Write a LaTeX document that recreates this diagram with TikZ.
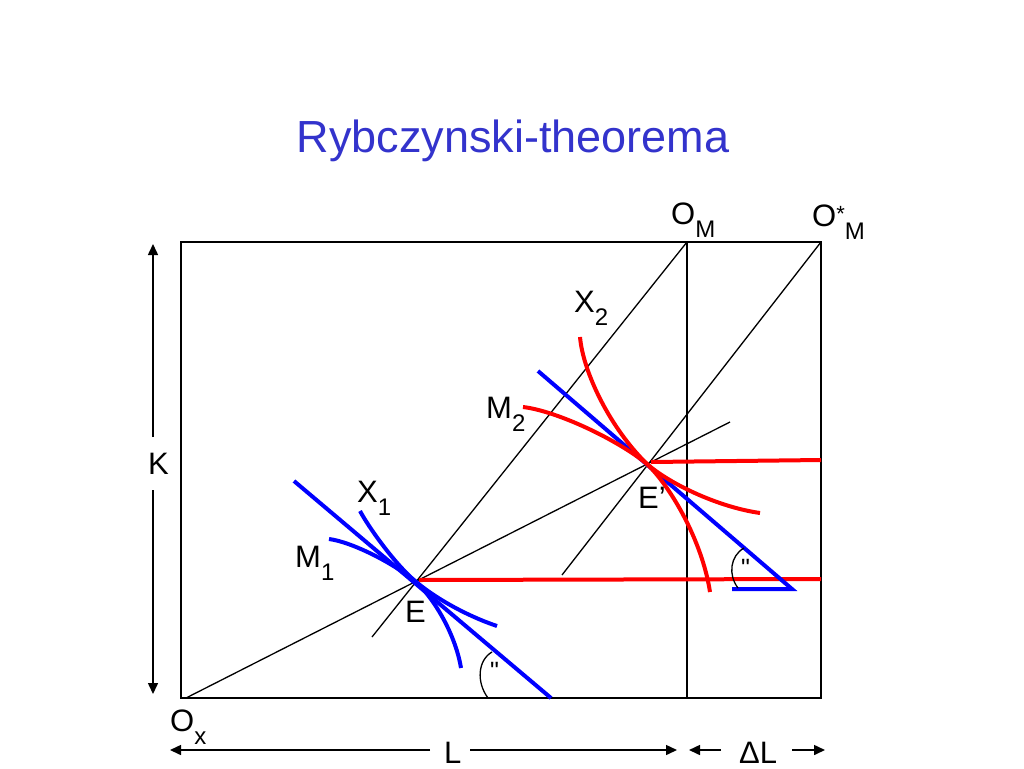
\documentclass[tikz,border=0pt]{standalone}
\usepackage{fontspec}
\setmainfont{Liberation Sans}
\newfontfamily\qfont{Liberation Sans}
\usetikzlibrary{arrows.meta}
\definecolor{titleblue}{HTML}{3333CC}
\definecolor{lblue}{HTML}{0000FF}
\definecolor{lred}{HTML}{FF0000}
\newcommand\lsub[1]{\raisebox{-13pt}{\fontsize{24}{24}\selectfont #1}}
\newcommand\lsup[1]{\raisebox{5pt}{\fontsize{22}{22}\selectfont #1}}
\begin{document}
\begin{tikzpicture}[x=1pt,y=-1pt,
  axis/.style={black, line width=1.5pt},
  thinline/.style={black, line width=1.3pt},
  bl/.style={lblue, line width=4pt},
  rd/.style={lred, line width=4pt},
  lab/.style={font=\fontsize{31}{31}\selectfont, inner sep=0pt, anchor=base west},
  ang/.style={font=\qfont\fontsize{25}{25}\selectfont, inner sep=0pt, anchor=base west},
  arr/.style={line width=1.5pt, -{Triangle[length=11pt,width=10pt]}}]
\useasboundingbox (0,0) rectangle (1024,768);

% title
\node[font=\fontsize{45}{45}\selectfont, text=titleblue, anchor=base, inner sep=0pt] (title) at (513,152) {Rybczynski-theorema};

% key coordinates
\coordinate (Ox) at (186,698);
\coordinate (OM) at (687,242);
\coordinate (OMs) at (821,242);
\coordinate (E) at (415,581);
\coordinate (E2) at (647,464);
\coordinate (ray) at (730,422);
\coordinate (m1end) at (372,637);
\coordinate (m2end) at (562,575);

% box
\draw[axis] (181,242) rectangle (821,698);
\draw[axis] (OM) -- (687,698);

% rays
\draw[thinline] (Ox) -- (ray);
\draw[thinline] (OM) -- (m1end);
\draw[thinline] (OMs) -- (m2end);

% red horizontals
\coordinate (r1a) at (419,580);
\coordinate (r1b) at (821,579);
\coordinate (r2a) at (651,462);
\coordinate (r2b) at (821,460);
\draw[rd] (r1a) -- (r1b);
\draw[rd] (r2a) -- (r2b);

% blue isocost lines
\coordinate (b1a) at (294,481);
\coordinate (b1b) at (551,698);
\coordinate (b2a) at (538,371);
\coordinate (b2b) at (792,589);
\coordinate (b2c) at (732,589);
\draw[bl] (b1a) -- (b1b);
\draw[bl, line join=miter] (b2a) -- (b2b) -- (b2c);

% blue isoquants at E
\draw[bl] (360,511) .. controls (368,526) and (393,562) .. (E);
\draw[bl] (329,539) .. controls (352,542) and (393,563) .. (E);
\draw[bl] (E) .. controls (440,602) and (473,618) .. (497,626);
\draw[bl] (E) .. controls (432,596) and (455,632) .. (461,668);

% red isoquants at E'
\draw[rd] (580,337) .. controls (583,372) and (610,428) .. (E2);
\draw[rd] (523,407) .. controls (557,411) and (618,440) .. (E2);
\draw[rd] (E2) .. controls (670,484) and (718,507) .. (760,513);
\draw[rd] (E2) .. controls (670,486) and (702,540) .. (710,592);

% angle marks
\draw[line width=1.3pt] (488,698) .. controls (476,682) and (478,660) .. (492,652);
\node[ang] (a1) at (490,679) {"};
\draw[line width=1.3pt] (738,588) .. controls (728,575) and (730,556) .. (744,548);
\node[ang] (a2) at (741,576) {"};

% labels
\node[lab] (lOM) at (671,224) {O\lsub{M}};
\node[lab] (lOMs) at (812,226) {O\lsup{*}\lsub{M}};
\node[lab] (lOx) at (170,731) {O\lsub{x}};
\node[lab] (lX2) at (574,312) {X\lsub{2}};
\node[lab] (lM2) at (486,418) {M\lsub{2}};
\node[lab] (lX1) at (357,502) {X\lsub{1}};
\node[lab] (lM1) at (295,567) {M\lsub{1}};
\node[lab] (lE) at (405,622) {E};
\node[lab] (lE2) at (638,508) {E’};
\node[lab] (lK) at (148,474) {K};
\node[lab] (lL) at (444,763) {L};
\node[lab] (lDL) at (739,763) {ΔL};

% K arrows
\coordinate (k1) at (153,437);
\coordinate (ktop) at (153,244);
\coordinate (k2) at (153,490);
\coordinate (kbot) at (153,694);
\draw[arr] (k1) -- (ktop);
\draw[arr] (k2) -- (kbot);

% L arrows
\coordinate (l1) at (430,750);
\coordinate (lleft) at (170,750);
\coordinate (l2) at (470,750);
\coordinate (lright) at (677,750);
\draw[arr] (l1) -- (lleft);
\draw[arr] (l2) -- (lright);

% Delta L arrows
\coordinate (d1) at (721,750);
\coordinate (dleft) at (689,750);
\coordinate (d2) at (792,750);
\coordinate (dright) at (825,750);
\draw[arr] (d1) -- (dleft);
\draw[arr] (d2) -- (dright);
\end{tikzpicture}
\end{document}
